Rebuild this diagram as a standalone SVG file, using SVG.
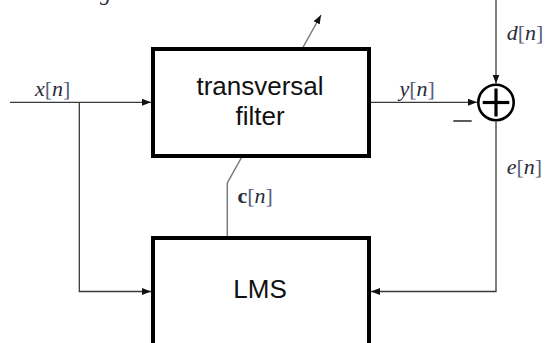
<svg xmlns="http://www.w3.org/2000/svg" width="545" height="343" viewBox="0 0 545 343">
<style>
  .box { fill: #ffffff; stroke: #000000; stroke-width: 4; }
  .lbl { font-family: "Liberation Sans", Arial, sans-serif; font-size: 26px; fill: #111111; text-anchor: middle; }
  .math { font-family: "Liberation Serif", "Times New Roman", serif; font-size: 22px; fill: #2b2b3a; }
  .it { font-style: italic; }
  .br { fill: #55607a; }
  .wire { fill: none; stroke: #3a3a3a; stroke-width: 1.3; }
  .wire2 { fill: none; stroke: #7a7a7a; stroke-width: 1.5; }
</style>
<defs>
  <marker id="arr" markerUnits="userSpaceOnUse" markerWidth="9" markerHeight="8" refX="9" refY="4" orient="auto">
    <path d="M0,0.5 L9,4 L0,7.5 z" fill="#111111"/>
  </marker>
</defs>
<rect x="0" y="0" width="545" height="343" fill="#ffffff"/>

<text class="math it" x="100" y="0" font-size="26">g</text>

<g id="connectors">
  <path class="wire" d="M10,102.3 H151" marker-end="url(#arr)"/>
  <path class="wire" d="M79.3,102.3 V291.5 H151" marker-end="url(#arr)"/>
  <path class="wire" d="M371,102.3 H477" marker-end="url(#arr)"/>
  <path class="wire" d="M496,0 V83.5" marker-end="url(#arr)"/>
  <path class="wire" d="M496,121.5 V291.5 H371" marker-end="url(#arr)"/>
  <path class="wire2" d="M227.3,236 V183 L321,15" marker-end="url(#arr)"/>
  <line x1="453.3" y1="121" x2="471.7" y2="121" stroke="#333333" stroke-width="1.6"/>
</g>

<g id="filter">
  <rect class="box" x="153" y="49" width="216" height="107"/>
  <text class="lbl" x="260" y="95">transversal</text>
  <text class="lbl" x="260" y="125">filter</text>
</g>

<g id="lms">
  <rect class="box" x="153" y="238" width="216" height="120"/>
  <text class="lbl" x="260" y="297.5">LMS</text>
</g>

<g id="sum">
  <circle cx="496" cy="102.5" r="17.7" fill="#ffffff" stroke="#000000" stroke-width="2.6"/>
  <line x1="482.7" y1="102.5" x2="509.3" y2="102.5" stroke="#000000" stroke-width="3.2"/>
  <line x1="496" y1="88.5" x2="496" y2="116.5" stroke="#000000" stroke-width="3.2"/>
</g>

<g id="labels">
  <text class="math" x="35" y="95.5"><tspan class="it">x</tspan><tspan class="br">[</tspan><tspan class="it">n</tspan><tspan class="br">]</tspan></text>
  <text class="math" x="399.5" y="95.5"><tspan class="it">y</tspan><tspan class="br">[</tspan><tspan class="it">n</tspan><tspan class="br">]</tspan></text>
  <text class="math" x="506.7" y="40"><tspan class="it">d</tspan><tspan class="br">[</tspan><tspan class="it">n</tspan><tspan class="br">]</tspan></text>
  <text class="math" x="506.7" y="174"><tspan class="it">e</tspan><tspan class="br">[</tspan><tspan class="it">n</tspan><tspan class="br">]</tspan></text>
  <text class="math" x="237.5" y="202.5"><tspan font-weight="bold">c</tspan><tspan class="br">[</tspan><tspan class="it">n</tspan><tspan class="br">]</tspan></text>
</g>
</svg>
